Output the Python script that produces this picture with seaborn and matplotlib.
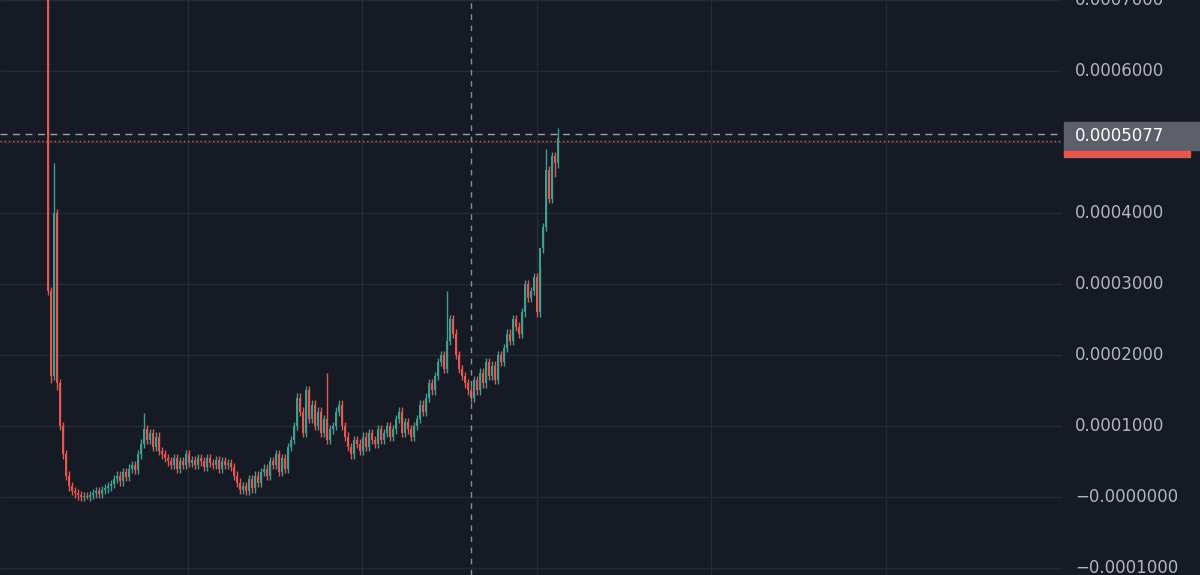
import matplotlib
matplotlib.use("Agg")
import matplotlib.pyplot as plt
import seaborn as sns
import numpy as np

# closes in units of 1e-6
closes = [290,170,400,160,100,60,
          30,15,8,5,2,
          0,1,0,3,5,8,4,10,12,15,
          18,25,30,22,35,28,40,45,38,60,
          75,95,80,90,70,85,65,60,55,50,
          45,55,40,50,45,60,48,52,45,55,
          50,42,55,48,45,52,40,50,45,48,
          42,30,20,10,15,8,25,12,30,20,
          35,40,30,50,45,60,35,55,40,70,
          80,100,140,120,90,150,110,130,100,120,
          90,110,80,95,100,120,130,100,85,70,
          60,80,75,65,85,70,90,80,75,95,
          80,90,100,85,95,110,120,90,105,95,
          85,100,110,130,120,140,160,150,170,190,
          200,180,220,250,230,200,180,170,160,150,
          140,165,150,175,160,190,170,185,165,200,
          190,210,230,220,250,240,230,260,300,280,
          290,310,260,350,380,460,420,480,470,505]
first_open = 720
spike_highs = {0: 760, 2: 470, 32: 118, 93: 175, 133: 290, 164: 325, 166: 490, 170: 520}
spike_lows = {1: 160, 3: 150, 13: -3, 169: 450}
last_price = 0.0005077
yticks = [-0.0001, 0.0, 0.0001, 0.0002, 0.0003, 0.0004, 0.0005, 0.0006, 0.0007]
ytick_labels = ["\u22120.0001000", "\u22120.0000000", "0.0001000", "0.0002000", "0.0003000",
                "0.0004000", "", "0.0006000", "0.0007000"]

BG = "#161a25"
GRID = "#262a35"
UP = "#3f9e8d"
DN = "#e5574f"

sns.set_theme(style="dark")
fig = plt.figure(figsize=(12, 5.75), dpi=100, facecolor=BG)
ax = fig.add_axes([0, 0, 1062/1200, 1])
ax.set_facecolor(BG)

c = np.array(closes) * 1e-6
o = np.concatenate([[first_open * 1e-6], c[:-1]])
x = np.arange(len(c))
hi = np.maximum(o, c) + 6e-6
lo = np.minimum(o, c) - 6e-6
for k, v in spike_highs.items():
    hi[k] = v * 1e-6
for k, v in spike_lows.items():
    lo[k] = v * 1e-6
col = [UP if cc >= oo else DN for oo, cc in zip(o, c)]
ax.vlines(x, lo, hi, colors=col, linewidth=1)
ax.bar(x, c - o, bottom=o, width=0.65, color=col, linewidth=0)

ax.set_xlim(-16, 338)
ax.set_ylim(-0.000110, 0.0007)
for gx in [46.67, 104.67, 163, 221, 279.3]:
    ax.axvline(gx, color=GRID, lw=1, zorder=0)
for gy in yticks:
    ax.axhline(gy, color=GRID, lw=1, zorder=0)
ax.axvline(141, color="#8a8e99", lw=1, ls=(0, (4, 4)))
ax.axhline(0.000511, color="#9aa0b0", lw=1, ls=(0, (5, 4)))
ax.axhline(0.0005015, color=DN, lw=1, ls=(0, (1, 2)))
ax.set_xticks([]); ax.set_yticks([])
for s in ax.spines.values():
    s.set_visible(False)

for v, l in zip(yticks, ytick_labels):
    if l:
        fig.text(1075/1200, ax.transData.transform((0, v))[1] / 575, l,
                 color="#b2b5be", fontsize=12, va="center", ha="left", family="DejaVu Sans")
# price label box
fig.patches.append(plt.Rectangle((1064/1200, 1 - 150/575), 136/1200, 28/575,
                                 transform=fig.transFigure, color="#5d606b"))
fig.patches.append(plt.Rectangle((1064/1200, 1 - 157/575), 126/1200, 6/575,
                                 transform=fig.transFigure, color=DN))
fig.text(1075/1200, 1 - 136/575, "0.0005077", color="white", fontsize=12,
         va="center", ha="left")
fig.savefig("out.png", dpi=100, facecolor=BG)
